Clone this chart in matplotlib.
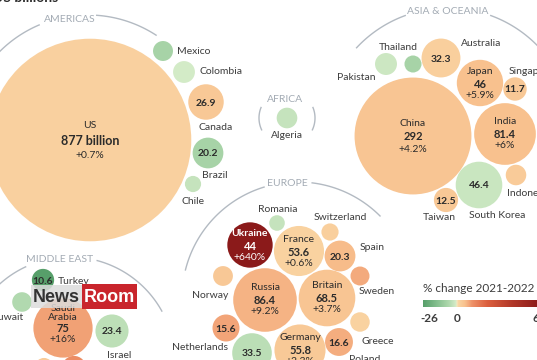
import numpy as np
import matplotlib
matplotlib.use("Agg")
import matplotlib.pyplot as plt
from matplotlib.colors import LinearSegmentedColormap
from matplotlib.patches import Circle, Rectangle

plt.rcParams['font.family'] = ['Lato', 'DejaVu Sans']

# military spending 2022, US$ bn, and % change 2021-2022
countries = ["US", "Mexico", "Colombia", "Canada", "Brazil", "Chile",
             "Algeria",
             "China", "Pakistan", "Thailand", "Australia", "Japan", "Singapore",
             "India", "South Korea", "Taiwan", "Indonesia",
             "Ukraine", "Romania", "France", "Switzerland", "Spain", "Norway",
             "Russia", "Britain", "Sweden", "Greece", "Netherlands", "Italy",
             "Germany", "Poland",
             "Turkey", "Kuwait", "Saudi Arabia", "Israel", "Iraq", "Iran"]
spend = [877, 8.5, 10.2, 26.9, 20.2, 5.6,
         9.1,
         292, 10.3, 6.2, 32.3, 46, 11.7,
         81.4, 46.4, 12.5, 9.0,
         44, 5.2, 53.6, 6.3, 20.3, 8.4,
         86.4, 68.5, 7.7, 8.1, 15.6, 33.5,
         55.8, 16.6,
         10.6, 8.2, 75, 23.4, 7.0, 12.5]
change = [0.7, -8, -1, 3, -7.9, -3,
          -3.2,
          4.2, -2, -8, 1, 5.9, 3,
          6, -2.5, 3, 2,
          640, -3, 0.6, 1, 7, 3,
          9.2, 3.7, 12, 0.5, 14, -4.5,
          2.3, 11,
          -26, -6, 16, -4.2, 2, 25]

# bubble layout (pixel space of the graphic)
pos = {"US": (90, 140), "Mexico": (163, 51), "Colombia": (184, 72),
       "Canada": (206, 102), "Brazil": (208, 153), "Chile": (193, 184),
       "Algeria": (287, 118),
       "China": (413, 136), "Pakistan": (386, 64), "Thailand": (413, 64),
       "Australia": (441, 58), "Japan": (480, 83), "Singapore": (515, 89),
       "India": (505, 134), "South Korea": (479, 185), "Taiwan": (446, 200),
       "Indonesia": (516, 175),
       "Ukraine": (250, 245), "Romania": (277, 223), "France": (299, 251),
       "Switzerland": (330, 232), "Spain": (340, 256), "Norway": (223, 276),
       "Russia": (265, 300), "Britain": (327, 298), "Sweden": (360, 276),
       "Greece": (360, 322), "Netherlands": (226, 328), "Italy": (252, 353),
       "Germany": (300, 350), "Poland": (339, 342),
       "Turkey": (43, 280), "Kuwait": (22, 302), "Saudi Arabia": (63, 328),
       "Israel": (112, 331), "Iraq": (44, 367), "Iran": (74, 368)}

# labels outside the bubble: (dx, dy, ha)
outside = {"Mexico": (14, 0, 'left'), "Colombia": (15, 0, 'left'),
           "Canada": (10, 25, 'center'), "Brazil": (7, 22, 'center'),
           "Chile": (0, 17, 'center'), "Algeria": (0, 18, 'center'),
           "Pakistan": (-30, 14, 'center'), "Thailand": (-15, -17, 'center'),
           "Australia": (40, -15, 'center'), "Singapore": (-6, -17, 'left'),
           "South Korea": (18, 31, 'center'), "Taiwan": (-7, 17, 'center'),
           "Indonesia": (-9, 18, 'left'),
           "Romania": (1, -14, 'center'), "Switzerland": (10, -15, 'center'),
           "Spain": (20, -9, 'left'), "Norway": (-13, 20, 'center'),
           "Sweden": (17, 15, 'center'), "Greece": (18, 19, 'center'),
           "Netherlands": (-26, 19, 'center'), "Poland": (26, 18, 'center'),
           "Turkey": (15, 1, 'left'), "Kuwait": (-15, 16, 'center'),
           "Israel": (7, 24, 'center')}

# which bubbles carry the value (and % change) inside
full = ["US", "China", "Japan", "India", "Ukraine", "France", "Russia",
        "Britain", "Germany", "Saudi Arabia"]
value_only = ["Canada", "Brazil", "Australia", "Singapore", "South Korea",
              "Taiwan", "Spain", "Netherlands", "Italy", "Poland", "Turkey",
              "Israel"]

K = 3.42  # px per sqrt(bn) -> bubble area proportional to spending

cmap = LinearSegmentedColormap.from_list("chg", [
    (0.00, '#579f6a'), (0.12, '#85c08f'), (0.22, '#afd8ad'),
    (0.28, '#d4ebc8'), (0.29, '#f6e6bd'), (0.30, '#f9d5a4'),
    (0.36, '#f8c08d'), (0.39, '#f3a97c'), (0.42, '#ee9168'),
    (0.55, '#dc5f3e'), (0.75, '#b43a2a'), (1.00, '#8b1a1a')])


def chg_t(p):
    if p < 0:
        return 0.29 * (1 + p / 26.0)
    return 0.29 + 0.71 * np.sqrt(p / 640.0)


def arc(ax, cx, cy, R, a0, a1):
    th = np.radians(np.linspace(a0, a1, 120))
    ax.plot(cx + R * np.cos(th), cy - R * np.sin(th), color='#b3bac2', lw=1, zorder=1)


fig = plt.figure(figsize=(5.37, 3.6), dpi=100)
ax = fig.add_axes([0, 0, 1, 1])
ax.set_xlim(0, 537)
ax.set_ylim(360, 0)
ax.axis('off')

dark = '#2b2b2b'
lab = '#3d3d3d'
gray = '#a3abb4'

# region titles and arcs
ax.text(-7, 4, "US billions", fontsize=10, fontweight='bold', color=dark, va='bottom', ha='left')
ax.text(70, 20, "AMERICAS", fontsize=7.5, color=gray, ha='center', va='center')
arc(ax, 88, 140, 125, 113, 150)
arc(ax, 88, 140, 125, 57, 86)
ax.text(285, 99, "AFRICA", fontsize=7.5, color=gray, ha='center', va='center')
arc(ax, 287, 118, 28, 158, 205)
arc(ax, 287, 118, 28, -25, 22)
ax.text(448, 12, "ASIA & OCEANIA", fontsize=7.5, color=gray, ha='center', va='center')
arc(ax, 448, 133, 125, 110, 137)
arc(ax, 448, 133, 125, 38, 70)
ax.text(287, 184, "EUROPE", fontsize=7.5, color=gray, ha='center', va='center')
arc(ax, 298, 298, 116, 107, 166)
arc(ax, 298, 298, 116, 45, 83)
ax.text(60, 259, "MIDDLE EAST", fontsize=7.5, color=gray, ha='center', va='center')
arc(ax, 70, 362, 105, 115, 140)
arc(ax, 70, 362, 105, 29, 75)

# bubbles
for name, v, p in zip(countries, spend, change):
    x, y = pos[name]
    r = K * np.sqrt(v)
    ax.add_patch(Circle((x, y), r, fc=cmap(chg_t(p)), ec='none', zorder=2))
    tc = 'white' if p > 100 else dark
    if name in full:
        sp = 15 if r > 80 else (13 if r > 40 else 12)
        vtxt = f"{v:g} billion" if name == "US" else f"{v:g}"
        fs = 9 if r > 80 else 8
        shown = name.replace(" ", "\n")
        if "\n" in shown:
            ax.text(x, y - 6, shown, ha='center', va='bottom', fontsize=7.5,
                    color=tc, linespacing=1.0, zorder=3)
        else:
            ax.text(x, y - sp, shown, ha='center', va='center', fontsize=7.5,
                    color=tc, fontweight='bold' if p > 100 else 'normal', zorder=3)
        ax.text(x, y + 1, vtxt, ha='center', va='center', fontsize=fs,
                fontweight='bold', color=tc, zorder=3)
        ax.text(x, y + sp, f"{p:+g}%", ha='center', va='center', fontsize=7.5,
                color=tc, zorder=3)
    elif name in value_only:
        ax.text(x, y + 1, f"{v:g}", ha='center', va='center', fontsize=7.5,
                fontweight='bold', color=tc, zorder=3)
    if name in outside:
        dx, dy, ha = outside[name]
        ax.text(x + dx, y + dy, name, ha=ha, va='center', fontsize=7.5,
                color=lab, zorder=3)

# colour scale
ax.text(423, 288, "% change 2021-2022", fontsize=8.5, color=lab, ha='left', va='center')
grad = np.linspace(0, 1, 256).reshape(1, -1)
ax.imshow(grad, cmap=cmap, extent=(423, 540, 307, 300), aspect='auto', zorder=2)
ax.set_xlim(0, 537)
ax.set_ylim(360, 0)
for lbl, xx in [("-26", 429), ("0", 457), ("640", 543)]:
    ax.text(xx, 318, lbl, fontsize=8.5, fontweight='bold', color=lab, ha='center', va='center')

# watermark of the source page
ax.add_patch(Rectangle((31, 285), 51, 23, fc='#dcdcdc', ec='none', alpha=0.85, zorder=5))
ax.add_patch(Rectangle((82, 284), 55, 25, fc='#c9252c', ec='none', zorder=5))
ax.text(56, 297, "News", family='Liberation Sans', fontsize=13, fontweight='bold',
        color='#333333', ha='center', va='center', zorder=6)
ax.text(109.5, 297, "Room", family='Liberation Sans', fontsize=13, fontweight='bold',
        color='white', ha='center', va='center', zorder=6)

fig.savefig("out.png", dpi=100)
